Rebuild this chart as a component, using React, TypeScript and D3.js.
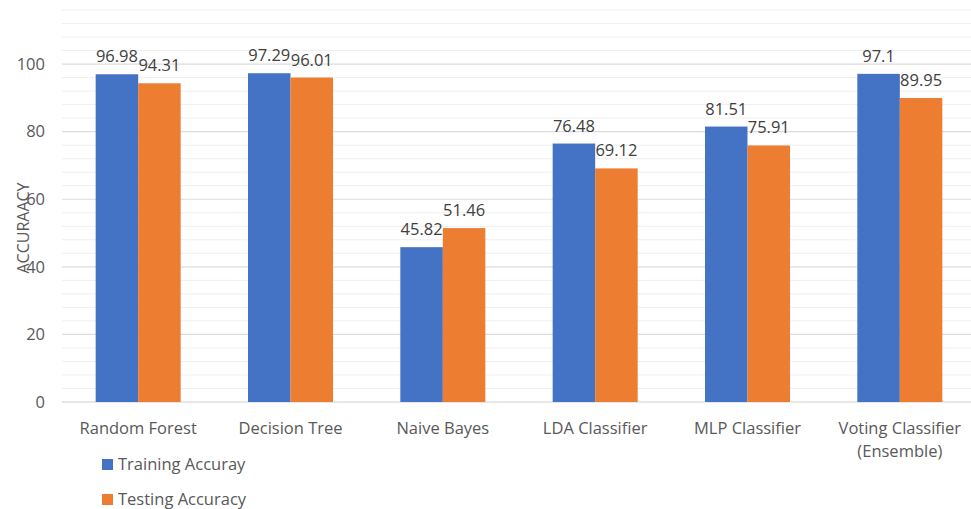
import React from "react";
import * as d3 from "d3";

const categories = ["Random Forest", "Decision Tree", "Naive Bayes", "LDA Classifier", "MLP Classifier", "Voting Classifier\n(Ensemble)"];
const trainingAccuracy = [96.98, 97.29, 45.82, 76.48, 81.51, 97.1];
const testingAccuracy = [94.31, 96.01, 51.46, 69.12, 75.91, 89.95];
const majorTicks = [0, 20, 40, 60, 80, 100];
const seriesNames = ["Training Accuray", "Testing Accuracy"];
const colors = ["#4472C4", "#ED7D31"];

const W = 971, H = 509;
const FONT = "'Open Sans', 'Noto Sans', sans-serif";

export default function App() {
  const x = d3.scaleBand<string>().domain(categories).range([62, 976]).paddingInner(0).paddingOuter(0);
  const y = d3.scaleLinear().domain([0, 116]).range([402, 10]);
  const minorTicks = d3.range(0, 117, 4).filter((v) => v % 20 !== 0);
  const bw = x.bandwidth();
  const barW = 42.5;
  const series = [trainingAccuracy, testingAccuracy];

  return (
    <div style={{ position: "absolute", left: 0, top: 0 }}>
      <svg width={W} height={H} style={{ display: "block", background: "#fff" }} fontFamily={FONT}>
        {minorTicks.map((t) => (
          <line key={"m" + t} x1={62} x2={W} y1={y(t)} y2={y(t)} stroke="#efefef" strokeWidth={1} />
        ))}
        {majorTicks.map((t) => (
          <line key={"M" + t} x1={62} x2={W} y1={y(t)} y2={y(t)} stroke={t === 0 ? "#d0d0d0" : "#dcdcdc"} strokeWidth={1.2} />
        ))}
        {majorTicks.map((t) => (
          <text key={"t" + t} x={45} y={y(t)} dy="0.35em" textAnchor="end" fontSize={16.5} fill="#595959">{t}</text>
        ))}
        {categories.map((c, i) => {
          const cx = (x(c) as number) + bw / 2;
          return (
            <g key={c}>
              {series.map((s, k) => {
                const bx = cx - barW + k * barW;
                return (
                  <g key={k}>
                    <rect x={bx} y={y(s[i])} width={barW} height={y(0) - y(s[i])} fill={colors[k]} />
                    <text x={bx + barW / 2} y={y(s[i]) - 12} textAnchor="middle" fontSize={16.5} fill="#404040">{s[i]}</text>
                  </g>
                );
              })}
              {c.split("\n").map((line, j) => (
                <text key={j} x={cx} y={434 + j * 23} textAnchor="middle" fontSize={16.5} fill="#595959">{line}</text>
              ))}
            </g>
          );
        })}
        <text transform="translate(29,228) rotate(-90)" textAnchor="middle" fontSize={16} fill="#595959">ACCURAACY</text>
        {seriesNames.map((n, k) => (
          <g key={n}>
            <rect x={102} y={459 + k * 35} width={11} height={11} fill={colors[k]} />
            <text x={118} y={464.5 + k * 35} dy="0.35em" fontSize={16.5} fill="#595959">{n}</text>
          </g>
        ))}
      </svg>
    </div>
  );
}
